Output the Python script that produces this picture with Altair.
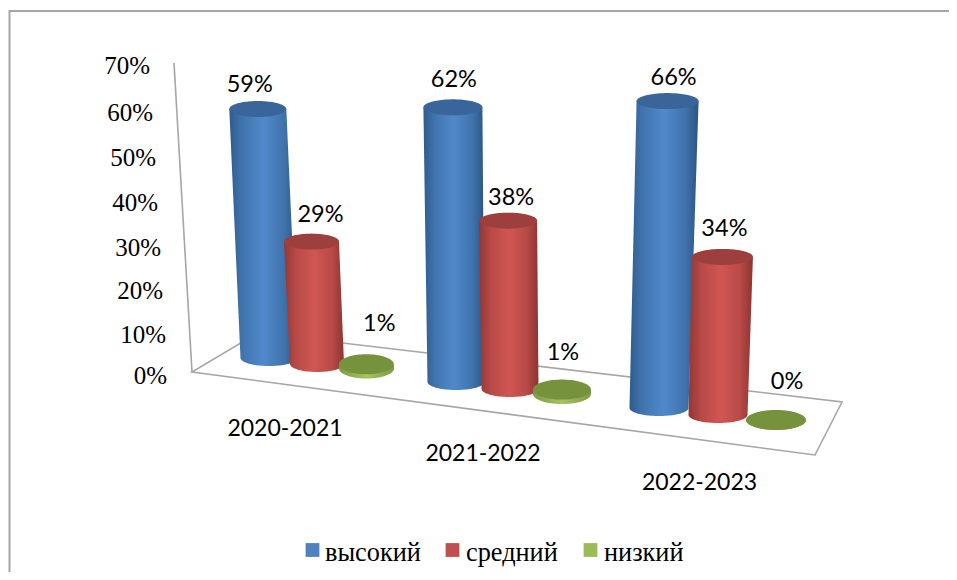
import math
import altair as alt
import pandas as pd

# ---- values ----
categories = ["2020-2021", "2021-2022", "2022-2023"]
series = ["высокий", "средний", "низкий"]
high = [59, 62, 66]
mid = [29, 38, 34]
low = [1, 1, 0]
tick_labels = ["0%", "10%", "20%", "30%", "40%", "50%", "60%", "70%"]

# ---- projection of the 3-D scene (page coordinates) ----
W, H = 941, 564
base_x = [[269, 317, 366.5], [456, 510, 562], [659, 718, 776]]
base_y = [[358, 364, 368.5], [382, 389, 394], [408, 415, 420]]
px_per_pct = [4.22, 4.43, 4.65]
lean_per_pct = [-0.19, -0.05, 0.13]
rx_top = [[28.5, 27.5, 27.5], [29.5, 29, 29], [31, 30.5, 30]]
rx_bot = [[28.5, 27, 27.5], [28.5, 28.5, 29], [29.5, 29.5, 30]]
ry = [8, 8, 10]
label_dx = [[-8, 9, 13], [1, 3, 1], [6, 2, 11]]
label_dy = [[-17, -20, -33], [-20, -16, -30], [-16, -21, -31]]
tick_x = [167, 166, 163, 161, 158, 156, 153, 150]
tick_y = [384, 343, 299, 256, 211, 166, 121, 74]
cat_x = [285, 483, 699.5]
cat_y = [436, 461, 490]
wall = [(174, 63), (192, 372)]
floor = [(257.5, 333), (192, 372), (815, 455), (842, 402), (257.5, 333)]
frame = [(957, 11), (9.5, 11), (9.5, 580)]
legend_sq_x = [312.5, 452.5, 590.5]
legend_tx_x = [325, 466, 604]

side_stops = [
    [("#2f5b8e", 0), ("#4073ad", 0.18), ("#5089cb", 0.5), ("#4073ad", 0.8), ("#2c5583", 1)],
    [("#933734", 0), ("#b84a47", 0.2), ("#d15653", 0.5), ("#b84a47", 0.8), ("#8c3432", 1)],
    [("#7f9a47", 0), ("#a3c45e", 0.5), ("#7f9a47", 1)],
]
top_colors = ["#39659a", "#9c3f3d", "#76923c"]
swatches = ["#4f81bd", "#c0504d", "#9bbb59"]

values = [high, mid, low]
X = alt.X("x:Q", scale=alt.Scale(domain=[8, 8 + W], nice=False, zero=False), axis=None)
Y = alt.Y("y:Q", scale=alt.Scale(domain=[8 + H, 8], nice=False, zero=False), axis=None)


def grad(stops):
    return alt.Gradient(
        gradient="linear", x1=0, x2=1, y1=0, y2=0,
        stops=[alt.GradientStop(color=c, offset=o) for c, o in stops],
    )


def top_point(c, s):
    v = values[s][c]
    return (base_x[c][s] + v * lean_per_pct[c], base_y[c][s] - v * px_per_pct[c])


N = 24
body_rows, cap_rows, label_rows = [], [], []
for s in range(3):
    for c in range(3):
        tx, ty = top_point(c, s)
        bx, by = base_x[c][s], base_y[c][s]
        cid = f"{s}-{c}"
        body_rows.append(dict(s=s, id=cid, y=ty, x=tx - rx_top[c][s], x2=tx + rx_top[c][s]))
        for k in range(N + 1):
            a = math.pi / 2 * k / N
            body_rows.append(dict(
                s=s, id=cid, y=by + ry[s] * math.sin(a) + 1e-6 * k,
                x=bx - rx_bot[c][s] * math.cos(a), x2=bx + rx_bot[c][s] * math.cos(a)))
        for k in range(-N, N + 1):
            a = math.pi / 2 * k / N
            cap_rows.append(dict(
                s=s, id=cid, y=ty + ry[s] * math.sin(a),
                x=tx - rx_top[c][s] * math.cos(a), x2=tx + rx_top[c][s] * math.cos(a)))
        label_rows.append(dict(x=tx + label_dx[c][s], y=ty + label_dy[c][s],
                               t=f"{values[s][c]}%"))

body = pd.DataFrame(body_rows)
caps = pd.DataFrame(cap_rows)
layers = []


def polyline(points, color, width):
    df = pd.DataFrame([dict(x=p[0], y=p[1], o=i) for i, p in enumerate(points)])
    return alt.Chart(df).mark_line(color=color, strokeWidth=width, clip=False).encode(
        x=X, y=Y, order="o:Q")


layers.append(polyline(frame, "#a6a6a6", 2))
layers.append(polyline(wall, "#a6a6a6", 1.6))
layers.append(polyline(floor, "#a6a6a6", 1.6))

for s in range(3):
    layers.append(
        alt.Chart(body[body.s == s]).mark_area(orient="horizontal", fill=grad(side_stops[s]))
        .encode(x=X, x2="x2:Q", y=Y, detail="id:N"))
    layers.append(
        alt.Chart(caps[caps.s == s]).mark_area(orient="horizontal", fill=top_colors[s])
        .encode(x=X, x2="x2:Q", y=Y, detail="id:N"))

layers.append(
    alt.Chart(pd.DataFrame(label_rows))
    .mark_text(font="Lato", fontSize=23.5, color="#000000", baseline="alphabetic", align="center")
    .encode(x=X, y=Y, text="t:N"))
layers.append(
    alt.Chart(pd.DataFrame(dict(x=tick_x, y=tick_y, t=tick_labels)))
    .mark_text(font="Liberation Serif", fontSize=25, color="#000000", baseline="alphabetic", align="right")
    .encode(x=X, y=Y, text="t:N"))
layers.append(
    alt.Chart(pd.DataFrame(dict(x=cat_x, y=cat_y, t=categories)))
    .mark_text(font="Lato", fontSize=23, color="#000000", baseline="alphabetic", align="center")
    .encode(x=X, y=Y, text="t:N"))
layers.append(
    alt.Chart(pd.DataFrame(dict(x=legend_sq_x, y=[550] * 3, t=series, c=swatches)))
    .mark_square(size=190, opacity=1)
    .encode(x=X, y=Y, color=alt.Color("c:N", scale=None)))
layers.append(
    alt.Chart(pd.DataFrame(dict(x=legend_tx_x, y=[561] * 3, t=series)))
    .mark_text(font="Liberation Serif", fontSize=26.3, color="#000000", baseline="alphabetic", align="left")
    .encode(x=X, y=Y, text="t:N"))

chart = alt.layer(*layers).properties(
    width=W, height=H, padding=0, autosize=alt.AutoSizeParams(type="none"), background="white"
).configure_view(stroke=None)

chart.save("out.html", embed_options={"renderer": "svg", "actions": False})
